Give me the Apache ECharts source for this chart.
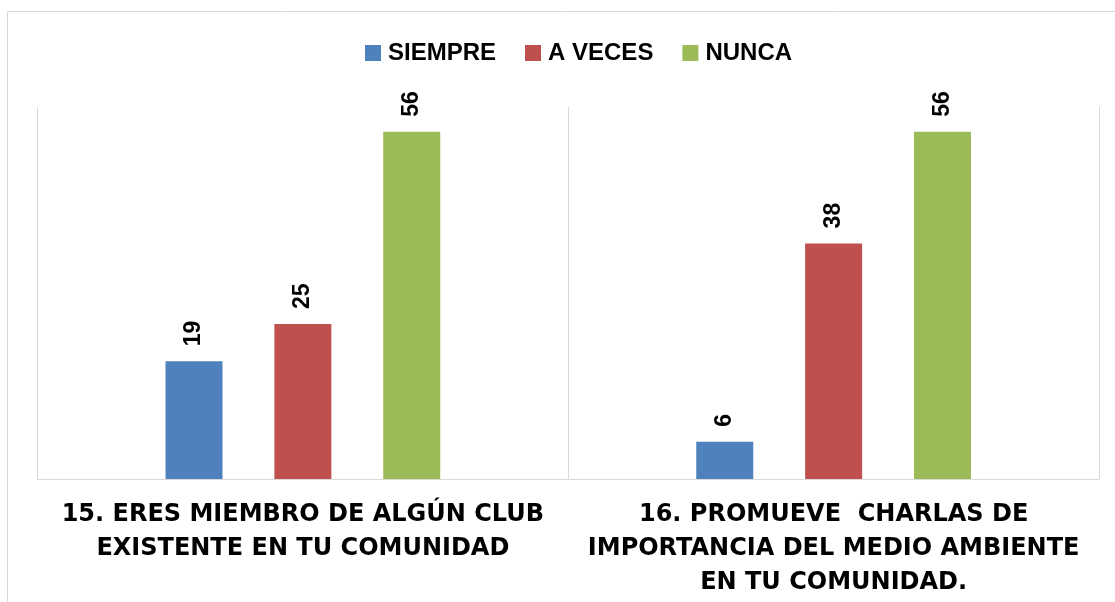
<!DOCTYPE html>
<html>
<head>
<meta charset="utf-8">
<script src="https://cdn.jsdelivr.net/npm/echarts@6/dist/echarts.min.js"></script>
<style>
html,body{margin:0;padding:0;background:#fff;}
#chart{width:1115px;height:602px;}
</style>
</head>
<body>
<div id="chart"></div>
<script>
const categories = [
  '15. ERES MIEMBRO DE ALGÚN CLUB\nEXISTENTE EN TU COMUNIDAD',
  '16. PROMUEVE  CHARLAS DE\nIMPORTANCIA DEL MEDIO AMBIENTE\nEN TU COMUNIDAD.'
];
const seriesNames = ['SIEMPRE', 'A VECES', 'NUNCA'];
const siempre = [19, 6];
const aVeces = [25, 38];
const nunca = [56, 56];
const colors = ['#4F81BD', '#C0504D', '#9BBB59'];

const chart = echarts.init(document.getElementById('chart'), null, {renderer: 'canvas'});

const labelStyle = {
  show: true,
  position: 'top',
  rotate: 90,
  align: 'left',
  verticalAlign: 'middle',
  distance: 15,
  fontSize: 23,
  fontWeight: 'bold',
  fontFamily: 'Liberation Sans',
  color: '#000'
};

function makeSeries(name, data, color) {
  return {
    name: name,
    type: 'bar',
    data: data,
    barWidth: 57,
    barGap: '91%',
    itemStyle: {color: color},
    label: labelStyle,
    emphasis: {disabled: true}
  };
}

chart.setOption({
  animation: false,
  color: colors,
  graphic: [{
    type: 'rect',
    silent: true,
    z: -10,
    shape: {x: 7.5, y: 11.5, width: 1200, height: 700},
    style: {fill: 'none', stroke: '#d9d9d9', lineWidth: 1}
  }],
  legend: {
    data: seriesNames,
    left: 360,
    top: 36,
    icon: 'rect',
    itemWidth: 16,
    itemHeight: 16,
    itemGap: 29,
    textStyle: {
      fontSize: 24,
      lineHeight: 24,
      fontWeight: 'bold',
      fontFamily: 'Liberation Sans',
      color: '#000',
      padding: [0, 0, 0, 2]
    }
  },
  grid: {left: 37.5, right: 16, top: 107, bottom: 123, containLabel: false},
  xAxis: {
    type: 'category',
    data: categories,
    axisLine: {lineStyle: {color: '#d9d9d9', width: 1}},
    axisTick: {show: false},
    splitLine: {show: true, lineStyle: {color: '#d9d9d9', width: 1}},
    axisLabel: {
      interval: 0,
      margin: 19,
      fontSize: 24,
      lineHeight: 34,
      fontWeight: 'bold',
      fontFamily: 'DejaVu Sans',
      color: '#000',
      align: 'center'
    }
  },
  yAxis: {
    type: 'value',
    min: 0,
    max: 60,
    show: false,
    splitLine: {show: false}
  },
  series: [
    makeSeries(seriesNames[0], siempre, colors[0]),
    makeSeries(seriesNames[1], aVeces, colors[1]),
    makeSeries(seriesNames[2], nunca, colors[2])
  ]
});
</script>
</body>
</html>
